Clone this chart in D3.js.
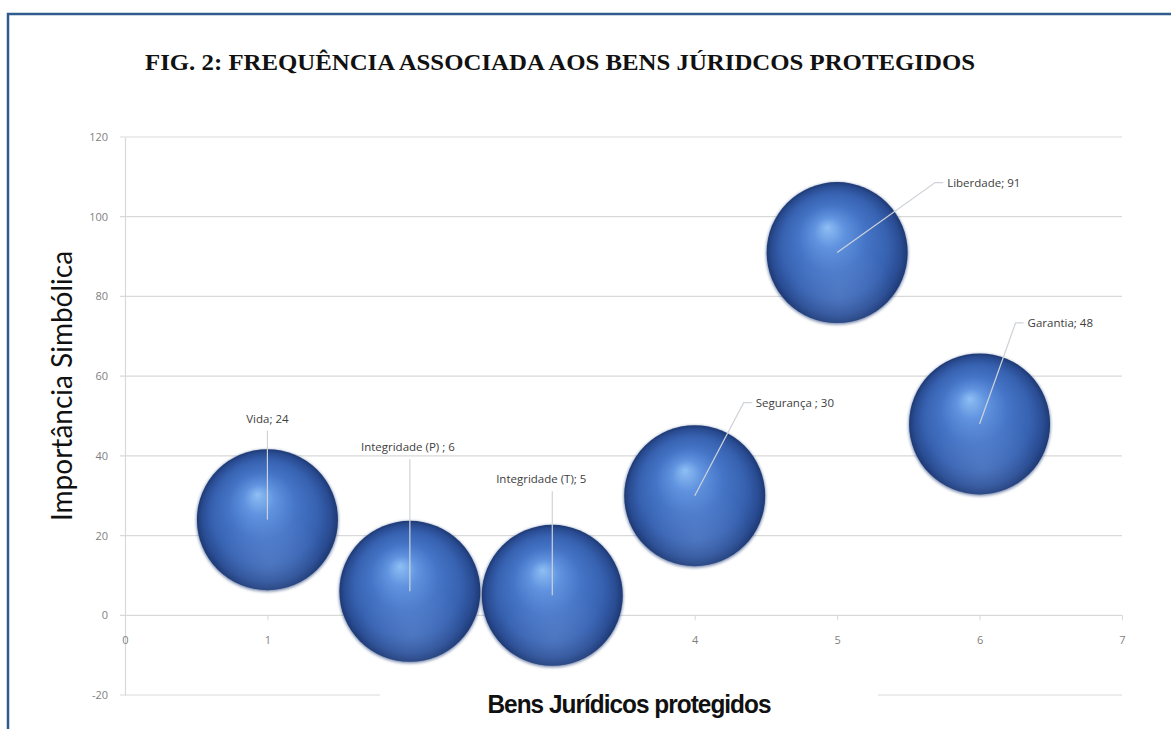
<!DOCTYPE html>
<html>
<head>
<meta charset="utf-8">
<script src="https://cdn.jsdelivr.net/npm/d3@7"></script>
<style>
  body { margin: 0; background: #fff; }
  svg { display: block; }
</style>
</head>
<body>
<div id="chart"></div>
<script>
// dados
const categorias = ["Vida", "Integridade (P)", "Integridade (T)", "Segurança", "Liberdade", "Garantia"];
const rotulos = ["Vida; 24", "Integridade (P) ; 6", "Integridade (T); 5", "Segurança ; 30", "Liberdade; 91", "Garantia; 48"];
const posX = [1, 2, 3, 4, 5, 6];
const valores = [24, 6, 5, 30, 91, 48];
const tamanhos = [1, 1, 1, 1, 1, 1];
const xTicks = [0, 1, 4, 5, 6, 7];
const yTicks = [-20, 0, 20, 40, 60, 80, 100, 120];

const W = 1171, H = 729;

const svg = d3.select("#chart").append("svg")
    .attr("width", W)
    .attr("height", H);

// moldura azul
svg.append("path")
    .attr("d", `M8,${H} L8,14 L${W},14`)
    .attr("fill", "none")
    .attr("stroke", "#2f5b8d")
    .attr("stroke-width", 2.5);

// titulo
svg.append("text")
    .attr("x", 560)
    .attr("y", 70)
    .attr("text-anchor", "middle")
    .attr("textLength", 830)
    .attr("lengthAdjust", "spacingAndGlyphs")
    .style("font-family", "Liberation Serif")
    .style("font-weight", "bold")
    .style("font-size", "23px")
    .style("fill", "#111")
    .text("FIG. 2: FREQUÊNCIA ASSOCIADA AOS BENS JÚRIDCOS PROTEGIDOS");

// escalas
const x = d3.scaleLinear().domain([0, 7]).range([125, 1122]);
const y = d3.scaleLinear().domain([-20, 120]).range([695, 137]);
const r = d3.scaleSqrt().domain([0, 1]).range([0, 71]);

// grade horizontal
svg.append("g")
    .selectAll("line")
    .data(yTicks)
    .enter()
    .append("line")
    .attr("x1", x(0) - 5)
    .attr("x2", x(7))
    .attr("y1", d => y(d))
    .attr("y2", d => y(d))
    .attr("stroke", "#d9d9d9")
    .attr("stroke-width", 1.2);

// eixo Y
svg.append("g")
    .attr("transform", `translate(${x(0)},0)`)
    .call(d3.axisLeft(y).tickValues(yTicks).tickSize(0).tickPadding(17).tickFormat(d => String(d)))
    .call(g => g.select(".domain").attr("stroke", "#d9d9d9").attr("stroke-width", 1.2))
    .selectAll("text")
    .style("font-family", "Open Sans")
    .style("font-size", "11px")
    .style("fill", "#7f7f7f");

// eixo X (em y = 0)
svg.append("g")
    .attr("transform", `translate(0,${y(0)})`)
    .call(d3.axisBottom(x).tickValues(xTicks).tickSize(5).tickPadding(16).tickFormat(d => String(d)))
    .call(g => g.select(".domain").remove())
    .call(g => g.selectAll(".tick line").attr("stroke", "#d9d9d9"))
    .selectAll("text")
    .style("font-family", "Open Sans")
    .style("font-size", "11px")
    .style("fill", "#7f7f7f");

// gradientes das esferas
const defs = svg.append("defs");
const grad = defs.append("radialGradient")
    .attr("id", "esfera")
    .attr("cx", "50%").attr("cy", "50%").attr("r", "50%")
    .attr("fx", "43%").attr("fy", "32%");
[
    ["0%", "#8fbff4"],
    ["22%", "#5f92df"],
    ["48%", "#4574c6"],
    ["75%", "#3762b1"],
    ["91%", "#2a4d94"],
    ["100%", "#1e3a75"]
].forEach(s => grad.append("stop").attr("offset", s[0]).attr("stop-color", s[1]));

const reflexo = defs.append("radialGradient")
    .attr("id", "reflexo")
    .attr("cx", "52%").attr("cy", "80%").attr("r", "38%");
reflexo.append("stop").attr("offset", "0%").attr("stop-color", "#7fa3e0").attr("stop-opacity", 0.3);
reflexo.append("stop").attr("offset", "100%").attr("stop-color", "#7fa3e0").attr("stop-opacity", 0);

defs.append("filter")
    .attr("id", "suave")
    .attr("x", "-10%").attr("y", "-10%").attr("width", "120%").attr("height", "120%")
    .append("feGaussianBlur")
    .attr("stdDeviation", 1.5);

const bolhas = svg.append("g")
    .selectAll("g")
    .data(categorias)
    .enter()
    .append("g");

// borda suave escura
bolhas.append("circle")
    .attr("cx", (d, i) => x(posX[i]))
    .attr("cy", (d, i) => y(valores[i]) + 1)
    .attr("r", (d, i) => r(tamanhos[i]))
    .attr("fill", "#1d3872")
    .attr("opacity", 0.6)
    .attr("filter", "url(#suave)");

bolhas.append("circle")
    .attr("cx", (d, i) => x(posX[i]))
    .attr("cy", (d, i) => y(valores[i]))
    .attr("r", (d, i) => r(tamanhos[i]) - 0.5)
    .attr("fill", "url(#esfera)");

bolhas.append("circle")
    .attr("cx", (d, i) => x(posX[i]))
    .attr("cy", (d, i) => y(valores[i]))
    .attr("r", (d, i) => r(tamanhos[i]) - 0.5)
    .attr("fill", "url(#reflexo)");

// posição dos rótulos em relação ao centro da bolha
const deslocRotulo = [
    { dx: 0, dy: -101, ancora: "middle" },
    { dx: -2, dy: -144, ancora: "middle" },
    { dx: -11, dy: -116, ancora: "middle" },
    { dx: 61, dy: -93, ancora: "start" },
    { dx: 110, dy: -70, ancora: "start" },
    { dx: 48, dy: -101, ancora: "start" }
];

const linhas = svg.append("g");
categorias.forEach((c, i) => {
    const cx = x(posX[i]), cy = y(valores[i]);
    const o = deslocRotulo[i];
    let pts;
    if (o.ancora === "middle") {
        pts = [[cx, cy + o.dy + 12], [cx, cy]];
    } else {
        pts = [[cx + o.dx - 4, cy + o.dy], [cx + o.dx - 12, cy + o.dy], [cx, cy]];
    }
    linhas.append("path")
        .attr("d", d3.line()(pts))
        .attr("fill", "none")
        .attr("stroke", "#cfd3d8")
        .attr("stroke-width", 1.2);
});

svg.append("g")
    .selectAll("text")
    .data(rotulos)
    .enter()
    .append("text")
    .attr("x", (d, i) => x(posX[i]) + deslocRotulo[i].dx)
    .attr("y", (d, i) => y(valores[i]) + deslocRotulo[i].dy)
    .attr("dy", "0.35em")
    .attr("text-anchor", (d, i) => deslocRotulo[i].ancora)
    .style("font-family", "Open Sans")
    .style("font-size", "11.5px")
    .style("fill", "#404040")
    .text(d => d);

// titulo do eixo X com fundo branco
svg.append("rect")
    .attr("x", 380)
    .attr("y", 684)
    .attr("width", 498)
    .attr("height", 30)
    .attr("fill", "#fff");

svg.append("text")
    .attr("x", 629)
    .attr("y", 713)
    .attr("text-anchor", "middle")
    .attr("textLength", 283)
    .attr("lengthAdjust", "spacingAndGlyphs")
    .style("font-family", "Liberation Sans")
    .style("font-weight", "bold")
    .style("font-size", "25px")
    .style("letter-spacing", "-1px")
    .style("fill", "#111")
    .text("Bens Jurídicos protegidos");

// titulo do eixo Y
svg.append("text")
    .attr("transform", "translate(72,386) rotate(-90)")
    .attr("text-anchor", "middle")
    .style("font-family", "Lato")
    .style("font-size", "28px")
    .style("fill", "#111")
    .text("Importância  Simbólica");
</script>
</body>
</html>
